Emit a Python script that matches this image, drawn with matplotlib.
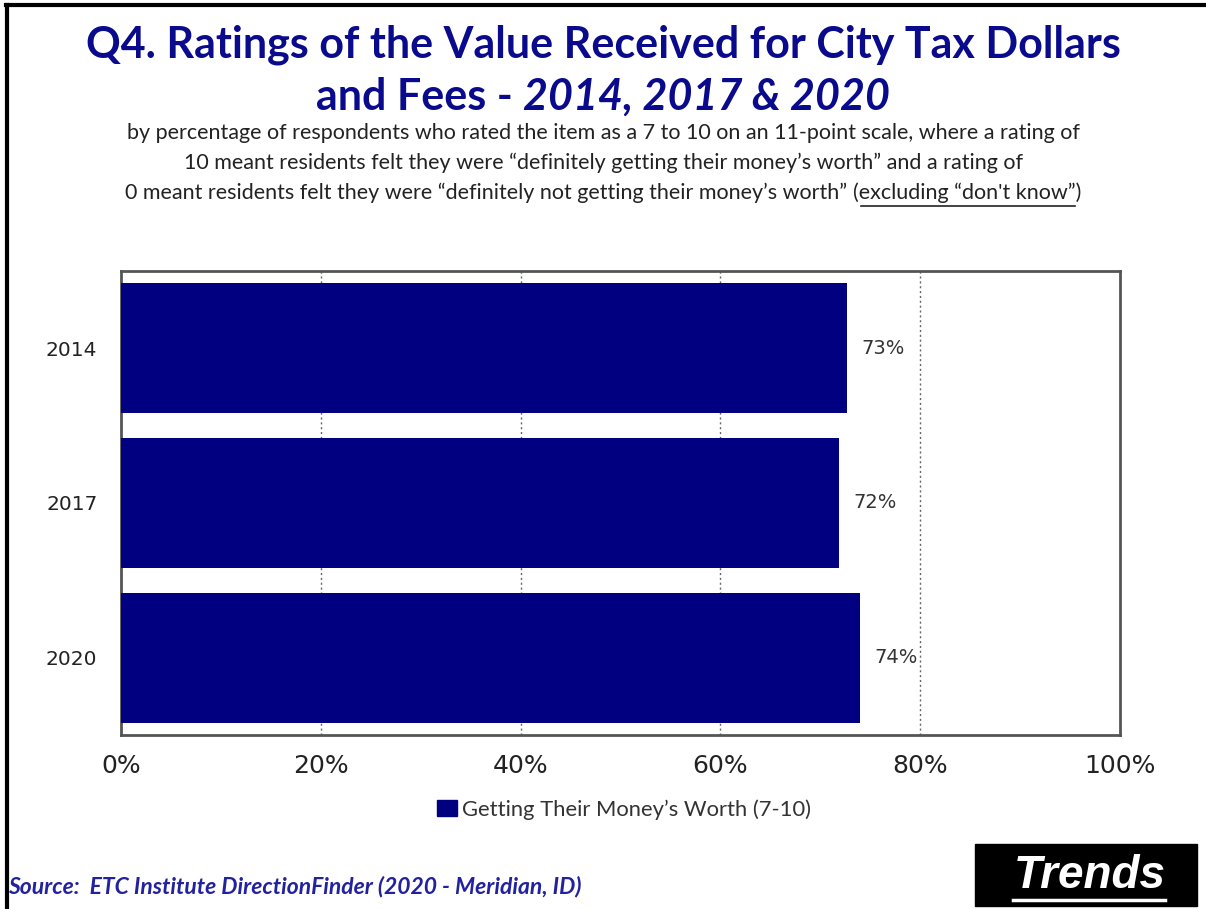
import matplotlib
matplotlib.use("Agg")
import matplotlib.pyplot as plt
from matplotlib.patches import Rectangle
from matplotlib.lines import Line2D

years = ["2014", "2017", "2020"]
values = [72.7, 71.9, 74.0]
value_labels = ["73%", "72%", "74%"]
xticks = [0, 20, 40, 60, 80, 100]
xtick_labels = ["0%", "20%", "40%", "60%", "80%", "100%"]
series_name = "Getting Their Money\u2019s Worth (7-10)"

NAVY = "#000080"
TITLE_C = "#0A0A8C"
W, H = 1206, 909
fig = plt.figure(figsize=(W / 100, H / 100), dpi=100)

def fx(px):
    return px / W

def fy(py):
    return 1 - py / H

ax = fig.add_axes([fx(121), fy(735), fx(1120) - fx(121), fy(271) - fy(735)])
ypos = list(range(len(years)))
ax.barh(ypos, values, height=0.84, color=NAVY, zorder=3)
ax.set_xlim(0, 100)
ax.set_ylim(2.5, -0.5)
ax.set_yticks(ypos)
ax.set_yticklabels(years, fontsize=14.5, family="DejaVu Sans", color="#222222")
ax.set_xticks(xticks)
ax.set_xticklabels(xtick_labels, fontsize=18, family="DejaVu Sans", color="#222222")
ax.tick_params(axis="both", length=0)
ax.tick_params(axis="y", pad=17)
ax.tick_params(axis="x", pad=14)
for x in xticks[1:-1]:
    ax.axvline(x, color="#666666", linestyle=(0, (1.5, 2)), linewidth=1, zorder=1)
for s in ax.spines.values():
    s.set_color("#555555")
    s.set_linewidth(2)
for i, (v, lab) in enumerate(zip(values, value_labels)):
    ax.annotate(lab, xy=(v, i), xytext=(14, 0), textcoords="offset pixels",
                va="center", ha="left", fontsize=14, family="DejaVu Sans", color="#333333")

# Title
fig.text(0.5, fy(45), "Q4. Ratings of the Value Received for City Tax Dollars",
         ha="center", va="center", fontsize=31, fontweight="bold", family="Lato",
         color=TITLE_C)
renderer = fig.canvas.get_renderer()
t1 = fig.text(0, fy(97), "and Fees - ", ha="left", va="center", fontsize=31,
              fontweight="bold", family="Lato", color=TITLE_C)
t2 = fig.text(0, fy(97), "2014, 2017 & 2020", ha="left", va="center", fontsize=31,
              fontweight="bold", style="italic", family="Lato", color=TITLE_C)
w1 = t1.get_window_extent(renderer).width
w2 = t2.get_window_extent(renderer).width
start = (W - (w1 + w2)) / 2
t1.set_x(start / W)
t2.set_x((start + w1) / W)

# Subtitle
sub_kw = dict(fontsize=15.5, family="Lato", color="#222222", va="center")
fig.text(0.5, fy(133), "by percentage of respondents who rated the item as a 7 to 10 on an 11-point scale, where a rating of",
         ha="center", **sub_kw)
fig.text(0.5, fy(163), "10 meant residents felt they were \u201cdefinitely getting their money\u2019s worth\u201d and a rating of",
         ha="center", **sub_kw)
s1 = fig.text(0, fy(193), "0 meant residents felt they were \u201cdefinitely not getting their money\u2019s worth\u201d ",
              ha="left", **sub_kw)
s2 = fig.text(0, fy(193), "(excluding \u201cdon't know\u201d)", ha="left", **sub_kw)
a1 = s1.get_window_extent(renderer).width
a2 = s2.get_window_extent(renderer).width
st = (W - (a1 + a2)) / 2
s1.set_x(st / W)
s2.set_x((st + a1) / W)
ul_y = fy(206)
fig.add_artist(Line2D([(st + a1 + 8) / W, (st + a1 + a2 - 6) / W], [ul_y, ul_y],
                      color="#222222", linewidth=1.2, transform=fig.transFigure))

# Legend
fig.add_artist(Rectangle((fx(437), fy(816)), fx(457) - fx(437), fy(800) - fy(816),
                         transform=fig.transFigure, color=NAVY))
fig.text(fx(462), fy(810), series_name, ha="left", va="center", fontsize=15.8,
         family="Lato", color="#333333")

# Source
fig.text(fx(8), fy(887), "Source:  ETC Institute DirectionFinder (2020 - Meridian, ID)",
         ha="left", va="center", fontsize=16.5, fontweight="bold", style="italic",
         family="Lato", color="#2222A0")

# Trends box
fig.add_artist(Rectangle((fx(975), fy(906)), fx(1197) - fx(975), fy(844) - fy(906),
                         transform=fig.transFigure, color="black"))
fig.text(fx(1090), fy(876), "Trends", ha="center", va="center", fontsize=33,
         fontweight="bold", style="italic", family="Liberation Sans", color="white")
fig.add_artist(Line2D([fx(1013), fx(1165)], [fy(900), fy(900)], color="white",
                      linewidth=2.5, transform=fig.transFigure))

# Page frame (top and left)
fig.add_artist(Line2D([fx(6), fx(1206)], [fy(5), fy(5)], color="black", linewidth=3,
                      transform=fig.transFigure))
fig.add_artist(Line2D([fx(7), fx(7)], [fy(5), fy(909)], color="black", linewidth=3,
                      transform=fig.transFigure))

fig.savefig("out.png", dpi=100)
